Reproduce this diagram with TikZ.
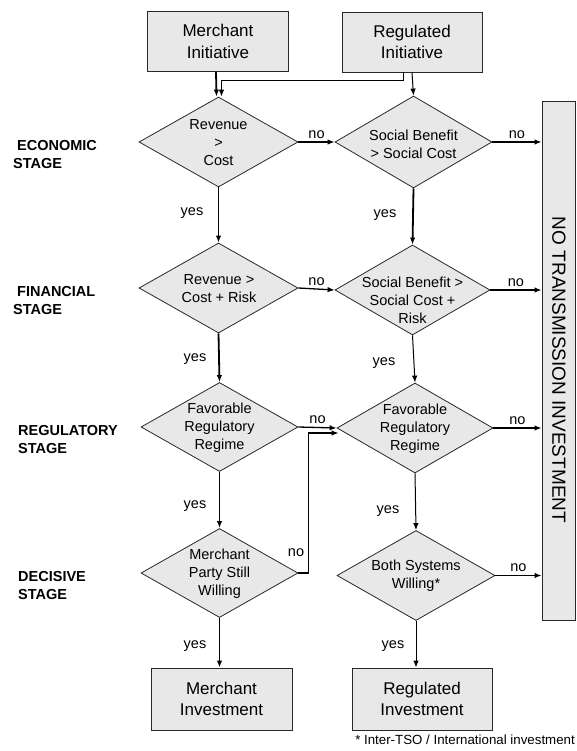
\documentclass[tikz,border=0pt]{standalone}
\usepackage{fontspec}
\setmainfont{Liberation Sans}
\usetikzlibrary{shapes.geometric,arrows.meta,calc}
\definecolor{boxfill}{RGB}{232,232,232}
\definecolor{edge}{RGB}{40,40,40}
\begin{document}
\begin{tikzpicture}[x=1pt,y=-1pt,
 dia/.style={diamond,draw=edge,line width=0.8pt,fill=boxfill,inner sep=0pt},
 box/.style={rectangle,draw=edge,line width=0.9pt,fill=boxfill,inner sep=0pt},
 btxt/.style={font=\fontsize{17}{21.5}\selectfont,align=center},
 dtxt/.style={font=\fontsize{14.5}{18}\selectfont,align=center,inner sep=0pt},
 lbl/.style={font=\fontsize{14.5}{18}\selectfont,inner sep=0pt},
 stage/.style={font=\fontsize{14.5}{18}\selectfont\bfseries,align=left,anchor=west,inner sep=0pt},
 arr/.style={-{Latex[length=7pt,width=5.5pt]},line width=1pt,black},
 harr/.style={arr,line width=1.3pt},
 tarr/.style={arr,line width=1.8pt},
]
\useasboundingbox (0,0) rectangle (576,751);

% boxes
\node[box,btxt,minimum width=141pt,minimum height=60pt] (mi) at (218,41.5) {Merchant\\Initiative};
\node[box,btxt,minimum width=140pt,minimum height=60pt] (ri) at (412,42) {Regulated\\Initiative};
\node[box,btxt,minimum width=141pt,minimum height=62pt] (mv) at (221.5,699) {Merchant\\Investment};
\node[box,btxt,minimum width=140pt,minimum height=62pt] (rv) at (422,699) {Regulated\\Investment};
\node[box,minimum width=33pt,minimum height=519pt] (nt) at (558.5,361) {};
\node[rotate=-90,font=\fontsize{19}{19}\selectfont,inner sep=0pt] (ntt) at (559,370) {NO TRANSMISSION INVESTMENT};

% diamonds
\node[dia,minimum width=159pt,minimum height=90pt] (d1) at (218.5,142) {};
\node[dia,minimum width=157pt,minimum height=92pt] (d2) at (413.5,142) {};
\node[dia,minimum width=159pt,minimum height=90pt] (d3) at (218.5,288) {};
\node[dia,minimum width=155pt,minimum height=90pt] (d4) at (412.5,290) {};
\node[dia,minimum width=157pt,minimum height=89pt] (d5) at (219.5,427) {};
\node[dia,minimum width=156pt,minimum height=90pt] (d6) at (415,428) {};
\node[dia,minimum width=157pt,minimum height=89pt] (d7) at (219.5,573) {};
\node[dia,minimum width=158pt,minimum height=90pt] (d8) at (416,575.5) {};

\node[dtxt] (t1) at (218.5,143) {Revenue\\>\\Cost};
\node[dtxt] (t2) at (413.5,144) {Social Benefit\\> Social Cost};
\node[dtxt] (t3) at (219,289) {Revenue >\\Cost + Risk};
\node[dtxt] (t4) at (412.5,300) {Social Benefit >\\Social Cost +\\Risk};
\node[dtxt] (t5) at (219.5,428) {Favorable\\Regulatory\\Regime};
\node[dtxt] (t6) at (415,429) {Favorable\\Regulatory\\Regime};
\node[dtxt] (t7) at (219.5,574) {Merchant\\Party Still\\Willing};
\node[dtxt] (t8) at (416,575.5) {Both Systems\\Willing*};

% stage labels
\node[stage] (s1) at (13,155) {\hspace*{4pt}ECONOMIC\\STAGE};
\node[stage] (s2) at (13,301) {\hspace*{4pt}FINANCIAL\\STAGE};
\node[stage] (s3) at (18,440) {REGULATORY\\STAGE};
\node[stage] (s4) at (18,586) {DECISIVE\\STAGE};

% footnote
\node[font=\fontsize{13.3}{16}\selectfont,anchor=east,inner sep=0pt] (fn) at (575,740) {* Inter-TSO / International investment};

% connectors from initiatives
\draw[tarr] ([xshift=-2pt]mi.south) -- ([xshift=-2pt]d1.north);
\draw[arr] ([xshift=-9pt]ri.south) -- ++(0,8) -| ([xshift=3pt]d1.north);
\draw[arr] (ri.south) -- (d2.north);

% economic stage
\draw[harr] (d1.east) -- node[lbl,above=3pt] (n1) {no} (d2.west);
\draw[harr] (d2.east) -- node[lbl,above=3pt] (n2) {no} (d2.east -| nt.west);
\draw[tarr] (d1.south) -- (d3.north);
\node[lbl] (y1) at (192,213) {yes};
\draw[tarr] (d2.south) -- (d4.north);
\node[lbl] (y2) at (385,215) {yes};

% financial stage
\draw[harr] (d3.east) -- node[lbl,above=3pt] (n3) {no} (d4.west);
\draw[harr] (d4.east) -- node[lbl,above=3pt] (n4) {no} (d4.east -| nt.west);
\draw[tarr] (d3.south) -- (d5.north);
\node[lbl] (y3) at (195,359) {yes};
\draw[arr] (d4.south) -- (d6.north);
\node[lbl] (y4) at (384,363) {yes};

% regulatory stage
\draw[harr] (d5.east) -- node[lbl,above=3pt] (n5) {no} (d6.west);
\draw[harr] (d6.east) -- node[lbl,above=3pt] (n6) {no} (d6.east -| nt.west);
\draw[tarr] (d5.south) -- (d7.north);
\node[lbl] (y5) at (195,506) {yes};
\draw[arr] (d6.south) -- (d8.north);
\node[lbl] (y6) at (388,511) {yes};

% decisive stage
\coordinate (fb) at ($(d6.west)+(2,5)$);
\draw[harr] (d7.east) -| ($(fb)+(-30,0)$) -- (fb);
\node[lbl] (n7) at (296,553) {no};
\draw[harr] (d8.east) -- node[lbl,above=3pt] (n8) {no} (d8.east -| nt.west);
\draw[tarr] (d7.south) -- (d7.south |- mv.north);
\node[lbl] (y7) at (195,646) {yes};
\draw[arr] (d8.south) -- (d8.south |- rv.north);
\node[lbl] (y8) at (393,646) {yes};
\end{tikzpicture}
\end{document}
